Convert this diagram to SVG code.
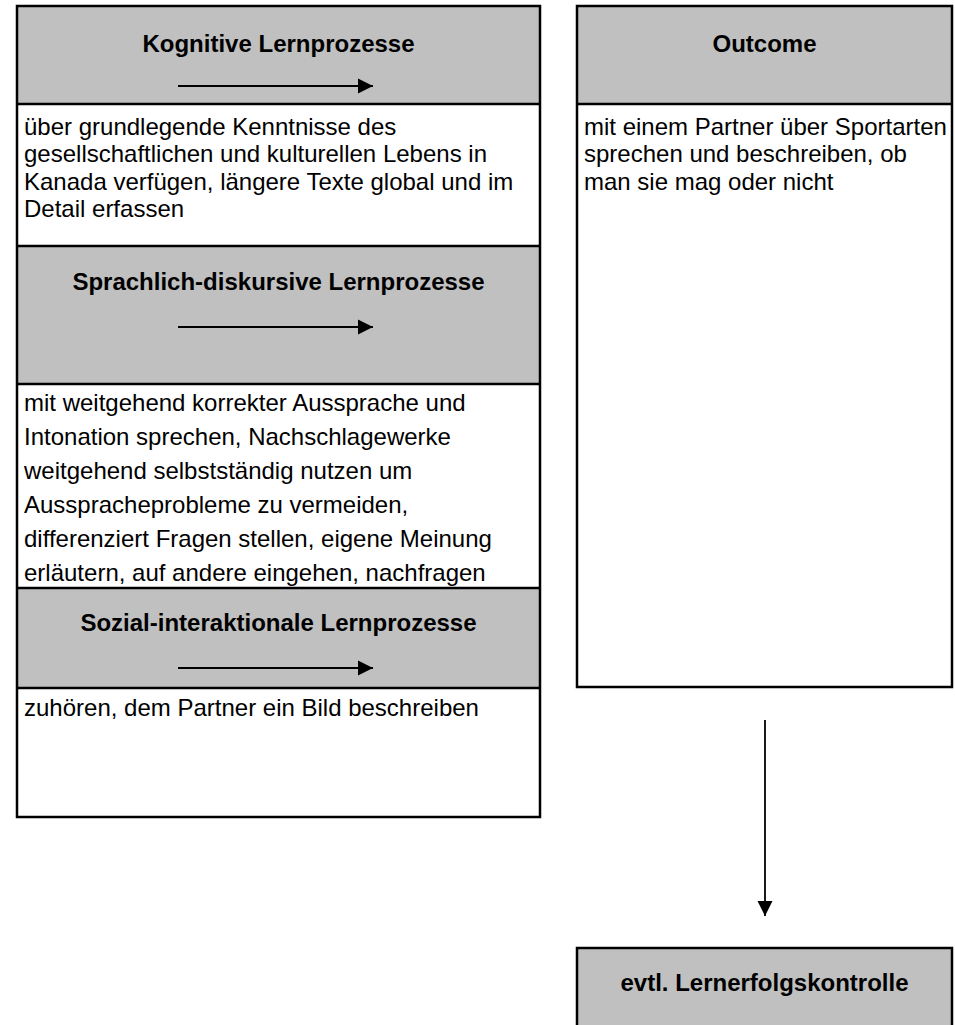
<svg xmlns="http://www.w3.org/2000/svg" width="955" height="1025" viewBox="0 0 955 1025">
  <style>
    .hdr { fill: #c0c0c0; stroke: none; }
    .frame { fill: none; stroke: #000; stroke-width: 2.5; }
    .sep { stroke: #000; stroke-width: 2.5; }
    .title { font-family: "Liberation Sans", Arial, sans-serif; font-size: 24px; font-weight: bold; fill: #000; text-anchor: middle; }
    .body { font-family: "Liberation Sans", Arial, sans-serif; font-size: 24px; fill: #000; }
    .conn { stroke: #000; stroke-width: 1.8; fill: none; }
  </style>
  <defs>
    <marker id="ah" markerUnits="userSpaceOnUse" markerWidth="16" markerHeight="16" viewBox="0 0 16 16" refX="15" refY="8" orient="auto">
      <polygon points="0,0.5 15,8 0,15.5" fill="#000"/>
    </marker>
  </defs>
  <rect x="0" y="0" width="955" height="1025" fill="#fff"/>

  <g id="kognitive">
    <rect class="hdr" x="17" y="6" width="523" height="98"/>
    <text class="title" x="278.5" y="52">Kognitive Lernprozesse</text>
    <text class="body" x="24" y="134.5">über grundlegende Kenntnisse des</text>
    <text class="body" x="24" y="162">gesellschaftlichen und kulturellen Lebens in</text>
    <text class="body" x="24" y="189.5">Kanada verfügen, längere Texte global und im</text>
    <text class="body" x="24" y="217">Detail erfassen</text>
    <line class="sep" x1="17" y1="104" x2="540" y2="104"/>
  </g>

  <g id="sprachlich">
    <rect class="hdr" x="17" y="246" width="523" height="138"/>
    <text class="title" x="278.5" y="290">Sprachlich-diskursive Lernprozesse</text>
    <text class="body" x="24" y="411">mit weitgehend korrekter Aussprache und</text>
    <text class="body" x="24" y="445">Intonation sprechen, Nachschlagewerke</text>
    <text class="body" x="24" y="479">weitgehend selbstständig nutzen um</text>
    <text class="body" x="24" y="513">Ausspracheprobleme zu vermeiden,</text>
    <text class="body" x="24" y="547">differenziert Fragen stellen, eigene Meinung</text>
    <text class="body" x="24" y="581">erläutern, auf andere eingehen, nachfragen</text>
    <line class="sep" x1="17" y1="246" x2="540" y2="246"/>
    <line class="sep" x1="17" y1="384" x2="540" y2="384"/>
  </g>

  <g id="sozial">
    <rect class="hdr" x="17" y="588" width="523" height="100"/>
    <text class="title" x="278.5" y="631">Sozial-interaktionale Lernprozesse</text>
    <text class="body" x="24" y="716">zuhören, dem Partner ein Bild beschreiben</text>
    <line class="sep" x1="17" y1="588" x2="540" y2="588"/>
    <line class="sep" x1="17" y1="688" x2="540" y2="688"/>
    <rect class="frame" x="17" y="6" width="523" height="811"/>
  </g>

  <g id="outcome">
    <rect class="hdr" x="577" y="6" width="375" height="98"/>
    <text class="title" x="764.5" y="52">Outcome</text>
    <text class="body" x="584" y="134.5">mit einem Partner über Sportarten</text>
    <text class="body" x="584" y="162">sprechen und beschreiben, ob</text>
    <text class="body" x="584" y="189.5">man sie mag oder nicht</text>
    <line class="sep" x1="577" y1="104" x2="952" y2="104"/>
    <rect class="frame" x="577" y="6" width="375" height="681"/>
  </g>

  <g id="kontrolle">
    <rect class="hdr" x="577" y="948" width="375" height="100"/>
    <rect class="frame" x="577" y="948" width="375" height="100"/>
    <text class="title" x="764.5" y="991">evtl. Lernerfolgskontrolle</text>
  </g>

  <g id="connectors">
    <line class="conn" x1="178" y1="86" x2="373" y2="86" marker-end="url(#ah)"/>
    <line class="conn" x1="178" y1="327" x2="373" y2="327" marker-end="url(#ah)"/>
    <line class="conn" x1="178" y1="668" x2="373" y2="668" marker-end="url(#ah)"/>
    <line class="conn" x1="765" y1="720" x2="765" y2="916" marker-end="url(#ah)"/>
  </g>
</svg>
